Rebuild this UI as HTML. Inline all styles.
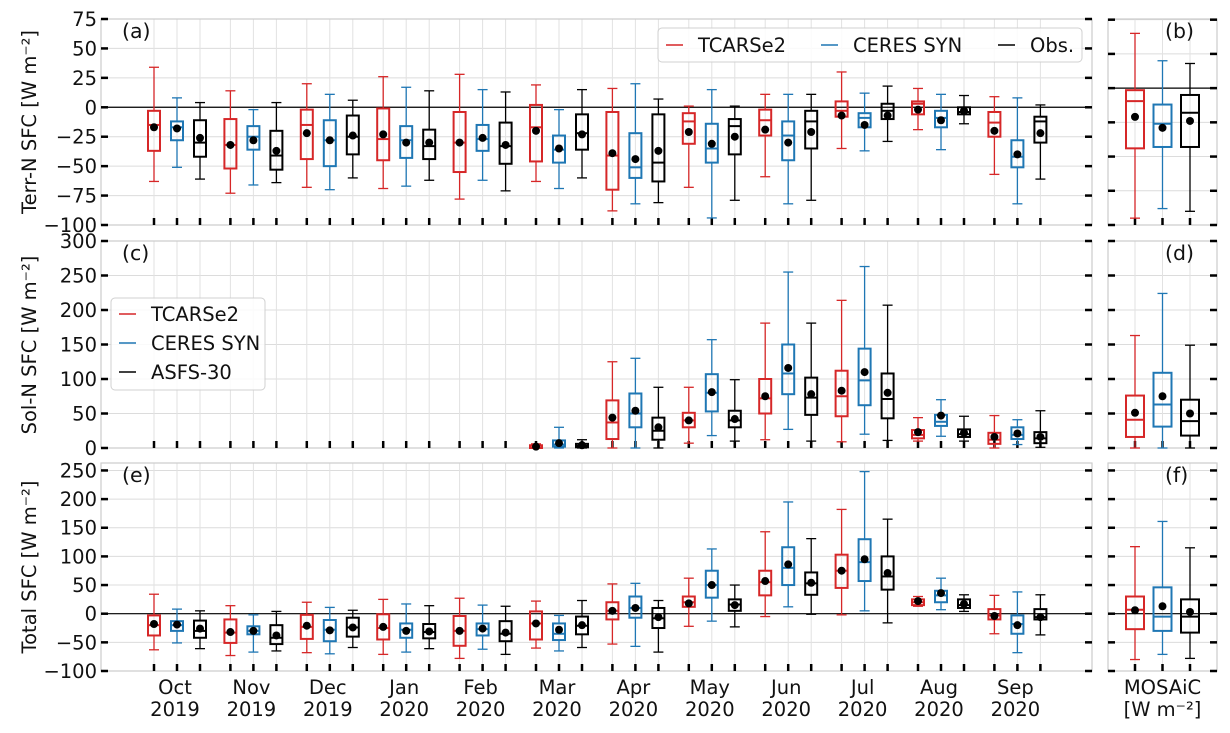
<!DOCTYPE html>
<html><head><meta charset="utf-8"><style>
body{margin:0;background:#fff;}
svg text{font-family:"DejaVu Sans","Liberation Sans",sans-serif;fill:#111;}
</style></head><body>
<svg id="chart" width="1230" height="728" viewBox="0 0 1230 728" xmlns="http://www.w3.org/2000/svg"></svg>
<script>
// ---- data: [whislo, q1, median, q3, whishi, mean] ----
const months = ["Oct","Nov","Dec","Jan","Feb","Mar","Apr","May","Jun","Jul","Aug","Sep"];
const years = ["2019","2019","2019","2020","2020","2020","2020","2020","2020","2020","2020","2020"];
const seriesNames = ["TCARSe2","CERES SYN","Obs."];
const terrTCARS = [[-63,-37,-15,-3,34,-17],[-73,-52,-32,-10,14,-32],[-68,-44,-15,-2,20,-22],[-69,-45,-27,-1,26,-23],[-78,-55,-30,-4,28,-30],[-63,-46,-17,2,19,-20],[-88,-70,-41,-4,16,-39],[-68,-31,-12,-5,1,-21],[-59,-24,-11,-2,11,-19],[-35,-8,-3,5,30,-7],[-19,-6,3,5,16,-2],[-57,-25,-13,-4,9,-20]];
const terrCERES = [[-51,-28,-17,-12,8,-18],[-66,-36,-25,-16,-2,-28],[-70,-50,-28,-11,11,-28],[-67,-43,-28,-16,17,-30],[-62,-37,-27,-15,15,-26],[-69,-47,-36,-24,-2,-35],[-82,-60,-51,-22,20,-44],[-94,-47,-35,-14,15,-31],[-82,-45,-24,-12,11,-30],[-37,-17,-9,-5,12,-15],[-36,-17,-9,-3,11,-11],[-82,-51,-42,-28,8,-40]];
const terrObs = [[-61,-42,-30,-11,4,-26],[-64,-53,-41,-20,4,-37],[-60,-40,-25,-7,6,-24],[-62,-44,-33,-19,14,-30],[-71,-48,-33,-13,13,-32],[-60,-36,-22,-6,15,-23],[-81,-63,-47,-6,7,-37],[-79,-40,-16,-10,1,-25],[-79,-35,-12,-3,11,-21],[-29,-10,-3,3,18,-7],[-14,-6,-4,0,10,-3],[-61,-30,-12,-8,2,-22]];
const terrMosaic = [[-95,-44,-9.5,-1.5,40,-21],[-88,-43,-26,-12,20,-29],[-90,-43,-18,-5,18,-24]];
const solTCARS = [null,null,null,null,null,[0,0,1,4,6,2],[0,13,37,69,125,44],[7,30,40,51,88,40],[12,50,72,100,181,75],[9,46,75,112,214,83],[10,14,19,26,44,23],[0,6,12,22,47,16]];
const solCERES = [null,null,null,null,null,[0,2,5,11,30,7],[0,30,50,79,130,54],[18,53,80,107,157,81],[27,78,108,150,255,116],[20,62,98,144,263,110],[17,32,38,48,70,47],[5,13,19,30,41,21]];
const solObs = [null,null,null,null,null,[0,1,3,6,12,4],[0,12,25,44,88,30],[10,30,40,54,99,42],[10,48,73,102,181,78],[11,43,71,108,207,80],[10,16,20,27,46,22],[1,7,14,23,54,16]];
const solMosaic = [[0,16,41,76,163,51],[0,31,63,109,224,75],[0,18,39,70,149,50]];
const totTCARS = [[-63,-38,-20,-3,34,-18],[-73,-51,-33,-10,14,-32],[-68,-44,-23,-2,20,-21],[-71,-45,-25,-1,25,-23],[-78,-56,-30,-4,27,-30],[-60,-45,-17,4,22,-17],[-53,-10,5,20,52,5],[-22,12,20,30,62,18],[-5,32,55,75,143,57],[-2,45,75,103,182,75],[13,15,20,25,30,22],[-35,-10,-3,8,32,-4]];
const totCERES = [[-51,-30,-20,-13,8,-19],[-67,-36,-30,-22,-2,-30],[-70,-48,-28,-11,11,-29],[-67,-42,-28,-17,17,-30],[-62,-38,-27,-17,15,-26],[-65,-46,-35,-17,-3,-28],[-57,-7,10,30,53,10],[-13,28,50,75,113,50],[12,50,80,116,195,86],[5,57,90,130,248,95],[7,20,32,40,62,36],[-68,-35,-18,-3,38,-20]];
const totObs = [[-61,-42,-30,-12,5,-26],[-65,-53,-42,-20,4,-38],[-59,-40,-24,-7,6,-24],[-61,-43,-32,-18,14,-31],[-71,-48,-35,-13,13,-33],[-59,-36,-21,-5,23,-20],[-67,-25,-8,10,23,-6],[-23,5,16,25,50,15],[-1,33,53,72,131,54],[-16,42,65,100,165,71],[4,10,15,25,33,17],[-37,-10,-6,8,33,-6]];
const totMosaic = [[-80,-27,7,30,117,6],[-71,-30,-5,46,161,13],[-78,-33,-5,25,115,3]];
const ticksA = [-100,-75,-50,-25,0,25,50,75];
const ticksB = [-100,-75,-50,-25,0,25,50];
const ticksC = [0,50,100,150,200,250,300];
const ticksE = [-100,-50,0,50,100,150,200,250];

const NS="http://www.w3.org/2000/svg";
const svg=document.getElementById('chart');
const colors=["#d62728","#1f77b4","#000000"];
function mk(tag,attrs,parent){const e=document.createElementNS(NS,tag);for(const k in attrs)e.setAttribute(k,attrs[k]);(parent||svg).appendChild(e);return e;}
function txt(x,y,s,size,anchor,parent){const t=mk('text',{x:x,y:y,'font-size':size,'text-anchor':anchor||'start'},parent);t.textContent=s;return t;}

const MX0=101,MX1=1092,RX0=1108,RX1=1217;
const mainX=(m,s)=>177+m*76.4+(s-1)*23;
const rightX=s=>1135+s*27.5;

function makeY(top,bot,vmin,vmax){return v=>bot-(v-vmin)/(vmax-vmin)*(bot-top);}

function panel(cfg){
  const g=mk('g',{});
  
  
  const y=cfg.y;
  cfg.ticks.forEach(v=>{const yy=y(v);if(yy<cfg.top-0.5||yy>cfg.bot+0.5)return;
    mk('line',{x1:cfg.x0,x2:cfg.x1,y1:yy,y2:yy,stroke:'#dcdcdc','stroke-width':1},g);});
  cfg.xs.forEach(x=>mk('line',{x1:x,x2:x,y1:cfg.top,y2:cfg.bot,stroke:'#e2e2e2','stroke-width':1},g));
  mk('rect',{x:cfg.x0,y:cfg.top,width:cfg.x1-cfg.x0,height:cfg.bot-cfg.top,fill:'none',stroke:'#cccccc','stroke-width':1.2},g);
  if(cfg.zero) mk('line',{x1:cfg.x0,x2:cfg.x1,y1:y(0),y2:y(0),stroke:'#000','stroke-width':1.2},g);
  cfg.ticks.forEach(v=>{const yy=y(v);if(yy<cfg.top-0.5||yy>cfg.bot+0.5)return;
    mk('line',{x1:cfg.x0,x2:cfg.x0+7,y1:yy,y2:yy,stroke:'#000','stroke-width':2.5},g);
    mk('line',{x1:cfg.x1-7,x2:cfg.x1,y1:yy,y2:yy,stroke:'#000','stroke-width':2.5},g);
    if(cfg.labels){const t=txt(cfg.x0-4,yy+7,(v<0?'\u2212'+(-v):String(v)),19.5,'end',g);
      }
  });
  cfg.xs.forEach(x=>mk('line',{x1:x,x2:x,y1:cfg.bot-7,y2:cfg.bot,stroke:'#000','stroke-width':2.5},g));
  cfg.boxes.forEach(b=>{
    if(!b.d)return;
    const [lo,q1,md,q3,hi,mn]=b.d; const c=b.c, x=b.x, w=b.w;
    const bg=mk('g',{},g);
    
    
    mk('line',{x1:x,x2:x,y1:y(hi),y2:y(q3),stroke:c,'stroke-width':1.3},bg);
    mk('line',{x1:x,x2:x,y1:y(q1),y2:y(lo),stroke:c,'stroke-width':1.3},bg);
    mk('line',{x1:x-5,x2:x+5,y1:y(hi),y2:y(hi),stroke:c,'stroke-width':1.3},bg);
    mk('line',{x1:x-5,x2:x+5,y1:y(lo),y2:y(lo),stroke:c,'stroke-width':1.3},bg);
    mk('rect',{x:x-w/2,y:y(q3),width:w,height:Math.max(0.5,y(q1)-y(q3)),fill:'none',stroke:c,'stroke-width':2},bg);
    mk('line',{x1:x-w/2,x2:x+w/2,y1:y(md),y2:y(md),stroke:c,'stroke-width':2},bg);
    mk('circle',{cx:x,cy:y(mn),r:4,fill:'#000'},bg);
  });
  txt(cfg.lx,cfg.top+19,cfg.letter,20.5,'start',g);
}

function mainBoxes(sets){const out=[];for(let m=0;m<12;m++)for(let s=0;s<3;s++)out.push({d:sets[s][m],c:colors[s],x:mainX(m,s),w:12,label:months[m]+'-'+s});return out;}
function rightBoxes(set){return set.map((d,s)=>({d:d,c:colors[s],x:rightX(s),w:18,label:'mosaic-'+s}));}
const mainXs=[];for(let m=0;m<12;m++)for(let s=0;s<3;s++)mainXs.push(mainX(m,s));
const rightXs=[0,1,2].map(rightX);

const A={top:19,bot:225},C={top:241,bot:448},E={top:463,bot:671};
const yA=makeY(A.top,A.bot,-100,75), yB=makeY(A.top,A.bot,-100,50.5);
const yC=makeY(C.top,C.bot,0,300), yE=makeY(E.top,E.bot,-100,263);

panel({name:'panel-a-terr',top:A.top,bot:A.bot,x0:MX0,x1:MX1,y:yA,ticks:ticksA,labels:true,zero:true,xs:mainXs,boxes:mainBoxes([terrTCARS,terrCERES,terrObs]),letter:'(a)',lx:122});
panel({name:'panel-b-terr-mosaic',top:A.top,bot:A.bot,x0:RX0,x1:RX1,y:yB,ticks:ticksB,labels:false,zero:true,xs:rightXs,boxes:rightBoxes(terrMosaic),letter:'(b)',lx:1165});
panel({name:'panel-c-sol',top:C.top,bot:C.bot,x0:MX0,x1:MX1,y:yC,ticks:ticksC,labels:true,zero:false,xs:mainXs,boxes:mainBoxes([solTCARS,solCERES,solObs]),letter:'(c)',lx:122});
panel({name:'panel-d-sol-mosaic',top:C.top,bot:C.bot,x0:RX0,x1:RX1,y:yC,ticks:ticksC,labels:false,zero:false,xs:rightXs,boxes:rightBoxes(solMosaic),letter:'(d)',lx:1165});
panel({name:'panel-e-total',top:E.top,bot:E.bot,x0:MX0,x1:MX1,y:yE,ticks:ticksE,labels:true,zero:true,xs:mainXs,boxes:mainBoxes([totTCARS,totCERES,totObs]),letter:'(e)',lx:122});
panel({name:'panel-f-total-mosaic',top:E.top,bot:E.bot,x0:RX0,x1:RX1,y:yE,ticks:ticksE,labels:false,zero:true,xs:rightXs,boxes:rightBoxes(totMosaic),letter:'(f)',lx:1165});

months.forEach((m,i)=>{const x=mainX(i,1)-2;
  const t1=txt(x,694,m,19.5,'middle');
  
  
  const t2=txt(x,716,years[i],19.5,'middle');
  
  });
const ml=txt(rightX(1),694,'MOSAiC',19.5,'middle');


const mu=txt(rightX(1),716,'[W m\u207B\u00B2]',19.5,'middle');



[['Terr-N SFC [W m\u207B\u00B2]',122,'y-axis-title-terr'],['Sol-N SFC [W m\u207B\u00B2]',345,'y-axis-title-sol'],['Total SFC [W m\u207B\u00B2]',567,'y-axis-title-total']].forEach(([s,yc,n])=>{
  const t=mk('text',{x:0,y:0,'font-size':19.5,'text-anchor':'middle',transform:'translate(36,'+yc+') rotate(-90)'});
  t.textContent=s;
  
  });

function legend(name,x,y,w,h,items){
  const g=mk('g',{});
  
  
  mk('rect',{x:x,y:y,width:w,height:h,rx:4,fill:'rgba(255,255,255,0.85)',stroke:'#d0d0d0'},g);
  items.forEach(it=>{
    mk('line',{x1:it.x,x2:it.x+17,y1:it.y,y2:it.y,stroke:it.c,'stroke-width':1.5},g);
    const t=txt(it.x+32,it.y+7,it.s,19.5,'start',g);
    t.setAttribute('fill','#222');
  });
}
legend('legend-top',658,28,424,34,[{x:666,y:45,c:colors[0],s:'TCARSe2'},{x:821,y:45,c:colors[1],s:'CERES SYN'},{x:998,y:45,c:colors[2],s:'Obs.'}]);
legend('legend-mid',111,298,154,92,[{x:119,y:314,c:colors[0],s:'TCARSe2'},{x:119,y:343,c:colors[1],s:'CERES SYN'},{x:119,y:372,c:colors[2],s:'ASFS-30'}]);
</script>
</body></html>
